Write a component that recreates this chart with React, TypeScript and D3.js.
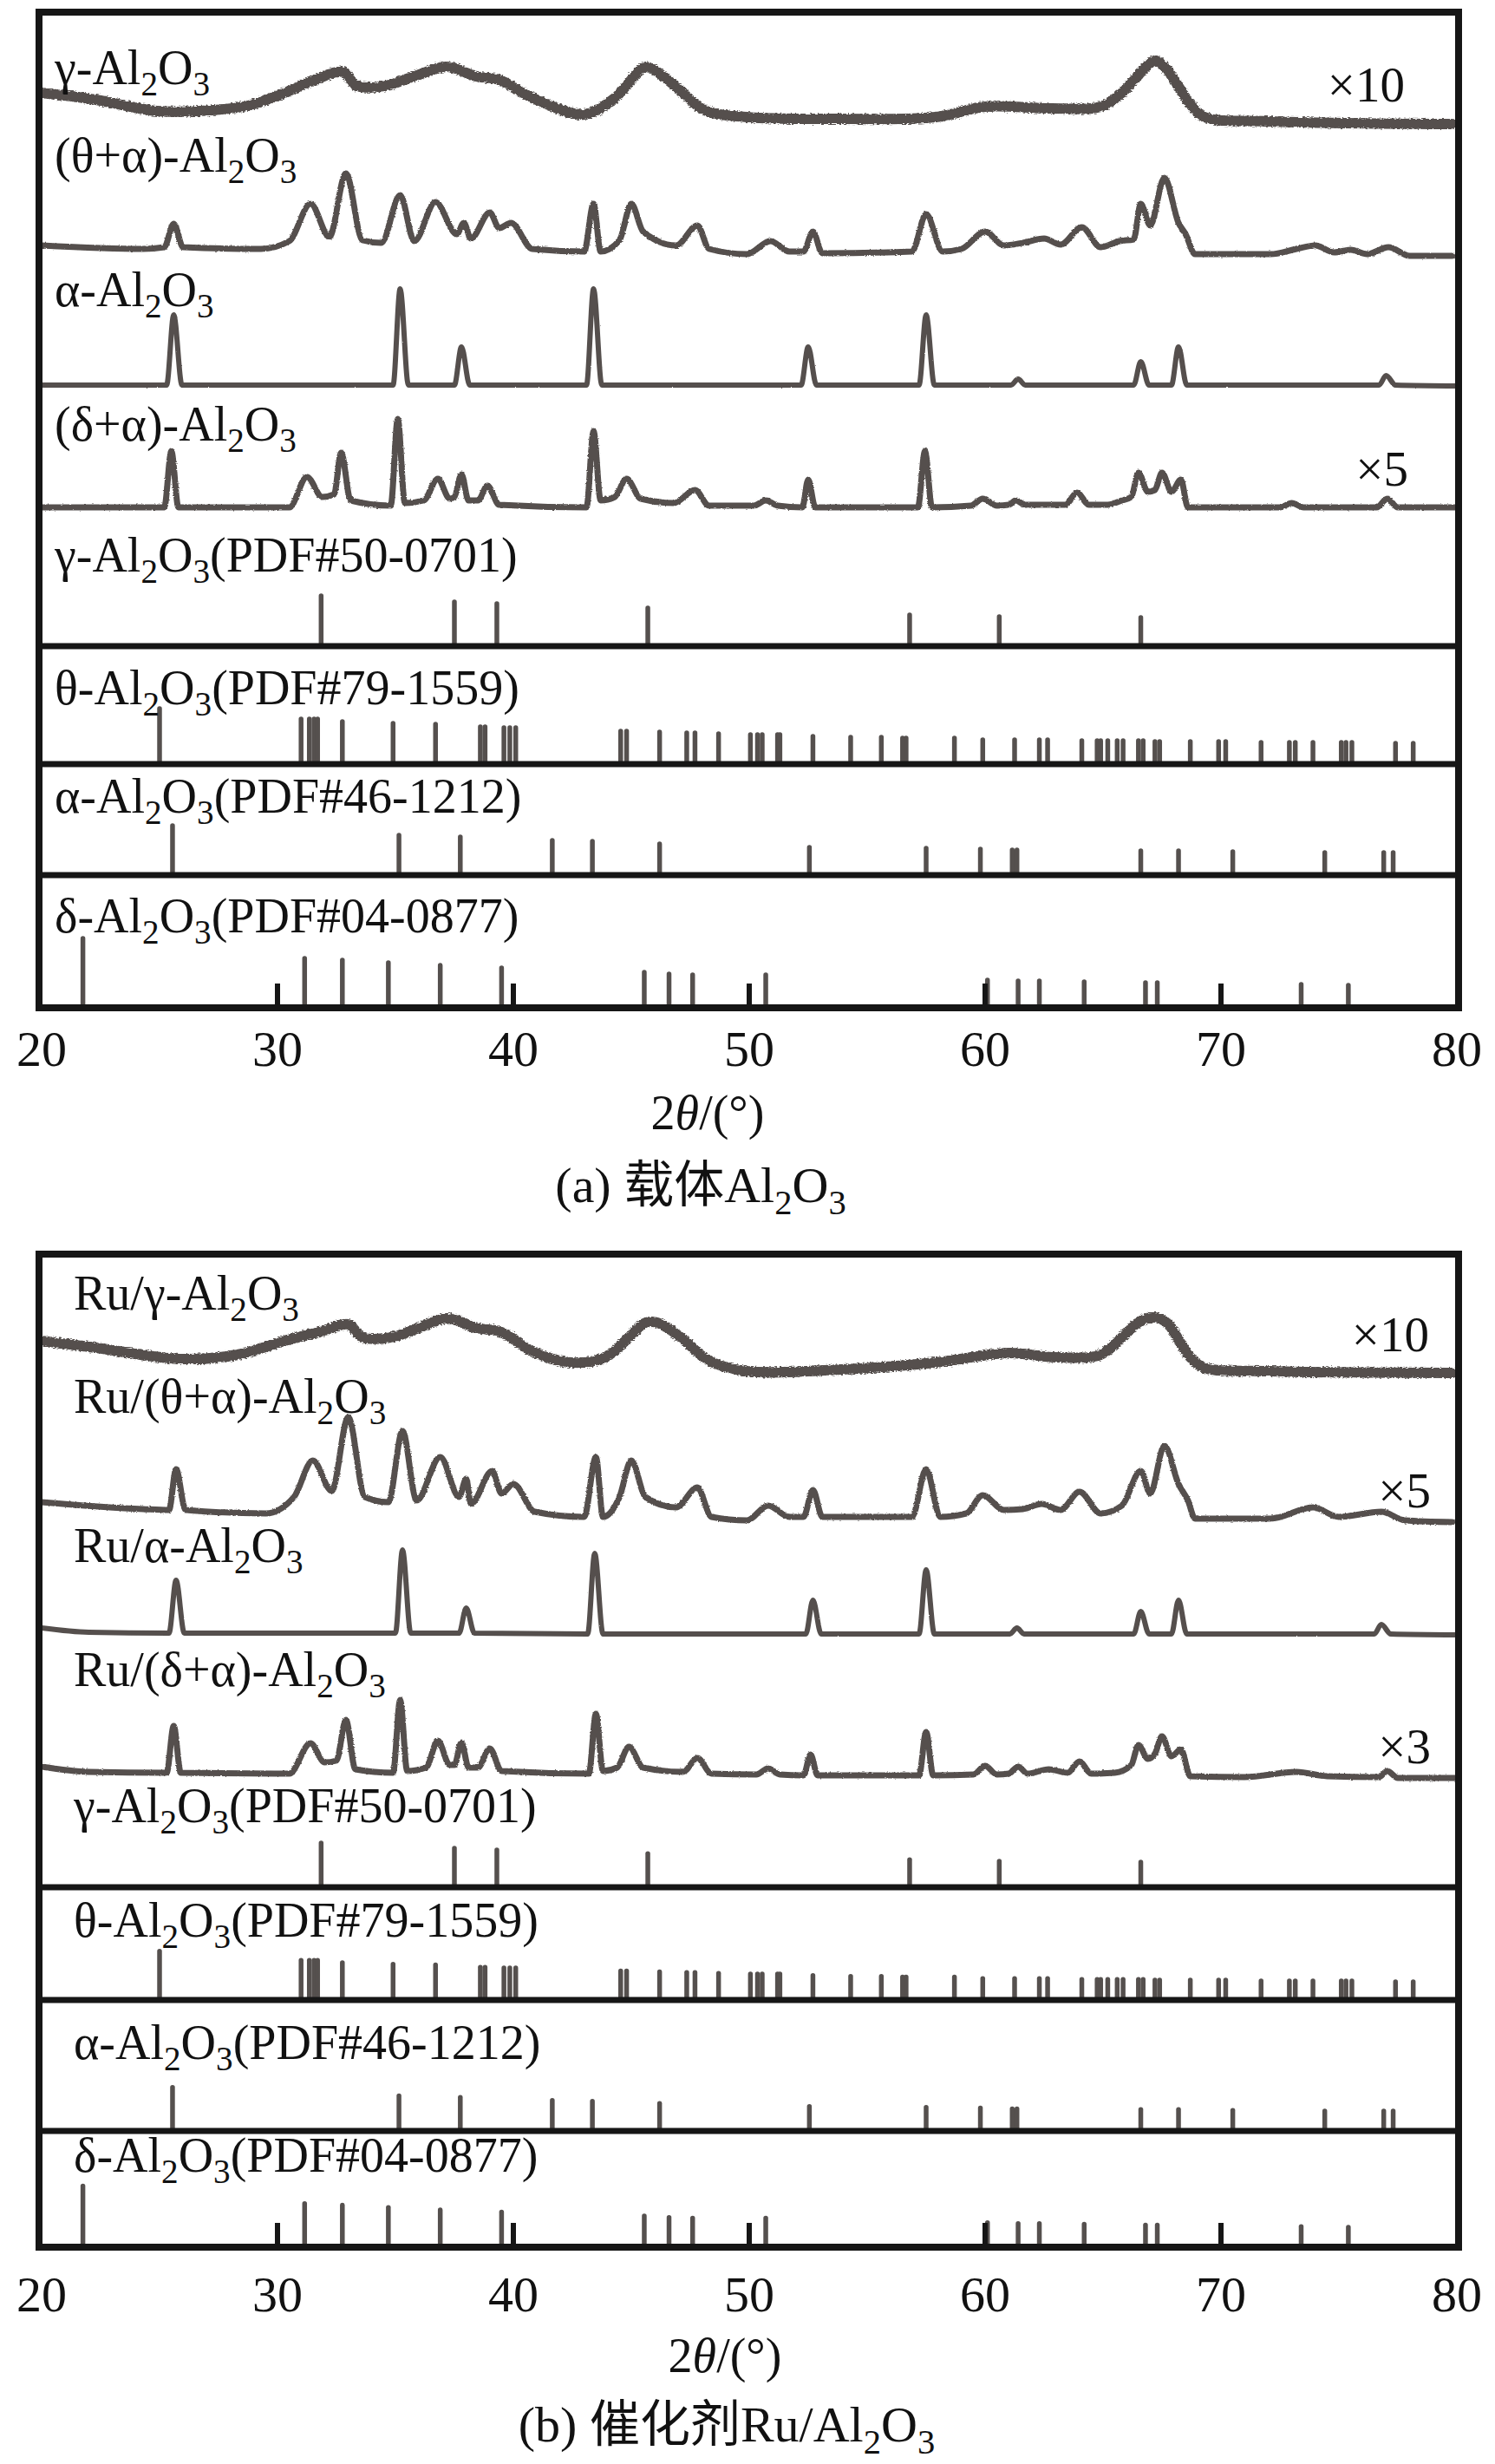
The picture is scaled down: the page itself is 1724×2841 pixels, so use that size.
import React from 'react';
import * as d3 from 'd3';

// ---------- DATA ----------
const xTicks = [20, 30, 40, 50, 60, 70, 80];

// Panel (a) measured patterns: [2θ, intensity above own baseline]
const gammaA = [[20.0,36],[22.3,28],[24.9,15],[26.7,15],[28.7,21],[30.3,36],[31.5,50],[32.8,60],[33.3,45],[34.4,43],[35.8,55],[37.2,66],[38.4,55],[39.4,51],[40.4,36],[41.4,23],[43.0,11],[44.3,30],[45.5,65],[45.8,65],[46.9,43],[48.1,16],[49.9,8],[53.9,6],[57.9,8],[60.0,20],[62.8,18],[64.9,20],[65.8,36],[66.9,68],[67.2,73],[67.7,63],[68.7,23],[69.3,8],[72.1,3],[79.8,0]];
const thetaAlphaA = [[20.0,10],[24.3,6],[25.2,8],[25.6,35],[26.0,8],[29.3,6],[30.5,15],[31.4,58],[32.2,20],[32.9,93],[33.6,16],[34.4,13],[35.2,68],[35.8,15],[36.7,60],[37.6,23],[37.9,36],[38.2,18],[39.0,48],[39.4,30],[39.9,36],[40.8,6],[43.0,3],[43.4,58],[43.7,3],[44.5,16],[45.0,58],[45.5,26],[46.9,10],[47.8,33],[48.3,6],[49.9,0],[50.9,15],[51.7,3],[52.3,3],[52.7,26],[53.1,1],[56.9,3],[57.5,46],[58.2,3],[59.0,6],[60.0,26],[60.8,10],[61.6,13],[62.5,18],[63.2,11],[64.1,31],[64.9,8],[65.7,15],[66.3,17],[66.6,58],[67.0,33],[67.6,88],[68.2,36],[68.5,23],[68.9,0],[72.1,0],[73.2,6],[74.0,10],[74.8,2],[75.5,5],[76.2,0],[77.1,8],[78.0,-2],[79.8,-2]];
const alphaA = [[20,0],[25.3,0],[25.6,81],[25.95,0],[34.9,0],[35.2,111],[35.55,0],[37.5,0],[37.8,44],[38.15,0],[43.1,0],[43.4,111],[43.75,0],[52.2,0],[52.5,44],[52.85,0],[57.2,0],[57.5,81],[57.85,0],[61.1,0],[61.4,7],[61.7,0],[66.3,0],[66.6,27],[66.95,0],[67.9,0],[68.2,44],[68.55,0],[76.7,0],[77.0,11],[77.4,0],[80,-1]];
const deltaAlphaA = [[20,0],[25.2,0],[25.5,65],[25.8,0],[30.5,0],[31.25,35],[31.9,12],[32.4,15],[32.7,63],[33.1,8],[34.8,2],[35.1,102],[35.4,5],[36.2,8],[36.8,33],[37.3,10],[37.5,12],[37.8,38],[38.1,8],[38.5,8],[38.9,25],[39.4,3],[43.1,0],[43.4,88],[43.7,8],[44.3,12],[44.8,33],[45.4,10],[46.8,5],[47.7,20],[48.3,2],[50.2,2],[50.7,8],[51.2,2],[52.25,0],[52.5,32],[52.8,0],[57.15,0],[57.45,65],[57.75,0],[59.4,2],[59.9,10],[60.5,2],[61.0,3],[61.3,8],[61.7,3],[63.4,3],[63.9,17],[64.4,3],[65.2,3],[65.8,8],[66.2,12],[66.5,40],[66.9,18],[67.2,20],[67.5,40],[67.9,18],[68.3,32],[68.6,0],[72.5,0],[73.0,5],[73.5,0],[76.6,0],[77.05,10],[77.5,0],[80,0]];

// Panel (b) measured patterns
const ruGammaB = [[20.0,37],[22.3,29],[25.9,16],[28.3,21],[30.3,37],[31.9,48],[33.0,56],[33.6,41],[34.8,41],[36.0,52],[37.2,63],[38.4,52],[39.4,48],[39.9,41],[40.8,25],[42.4,12],[43.9,18],[44.9,41],[45.6,58],[46.1,58],[47.1,41],[48.3,14],[49.9,2],[53.9,4],[57.9,12],[61.0,23],[63.0,18],[64.9,21],[65.8,41],[66.6,60],[67.2,64],[67.7,58],[68.7,18],[69.3,6],[72.1,2],[79.8,0]];
const ruThetaAlphaB = [[20.0,21],[24.3,13],[25.4,12],[25.7,59],[26.1,12],[29.5,8],[30.7,27],[31.5,69],[32.3,34],[33.0,119],[33.7,27],[34.7,21],[35.3,103],[35.9,23],[36.9,73],[37.7,27],[38.0,48],[38.2,19],[39.1,57],[39.5,31],[40.0,42],[40.9,10],[43.0,4],[43.5,73],[43.8,4],[44.5,27],[45.0,69],[45.6,27],[46.9,15],[47.8,38],[48.4,4],[49.9,0],[50.8,17],[51.7,4],[52.3,4],[52.7,35],[53.1,4],[56.9,4],[57.5,59],[58.1,4],[59.2,8],[59.9,29],[60.8,12],[61.6,13],[62.4,19],[63.2,12],[64.0,33],[64.9,8],[65.8,17],[66.6,57],[67.0,31],[67.6,86],[68.2,42],[68.6,23],[68.9,2],[72.1,2],[73.9,15],[75.0,4],[76.8,10],[77.8,0],[79.8,-2]];
const ruAlphaB = [[20,7],[22,2],[25.4,1],[25.7,62],[26.05,1],[35.0,1],[35.3,97],[35.65,1],[37.7,1],[38.0,30],[38.35,1],[43.15,0],[43.45,93],[43.8,0],[52.4,0],[52.7,39],[53.05,0],[57.2,0],[57.5,74],[57.85,0],[61.05,0],[61.35,7],[61.65,0],[66.3,0],[66.6,26],[66.95,0],[67.9,0],[68.2,39],[68.55,0],[76.5,0],[76.8,11],[77.2,0],[80,-1]];
const ruDeltaAlphaB = [[20,13],[22,7],[25.3,6],[25.6,60],[25.9,6],[30.5,5],[31.4,40],[32.0,18],[32.5,20],[32.9,67],[33.3,10],[34.9,6],[35.2,90],[35.5,8],[36.3,12],[36.8,43],[37.3,15],[37.5,15],[37.8,41],[38.1,12],[38.5,12],[39.0,34],[39.5,8],[43.2,5],[43.5,74],[43.8,8],[44.4,12],[44.9,36],[45.5,12],[47.2,7],[47.8,23],[48.4,5],[50.3,4],[50.8,11],[51.3,4],[52.3,3],[52.6,27],[52.9,3],[57.2,3],[57.5,53],[57.8,3],[59.5,4],[60.0,14],[60.5,4],[61.0,5],[61.4,13],[61.8,5],[62.7,10],[63.5,6],[64.0,19],[64.5,5],[65.5,6],[66.2,15],[66.5,38],[66.9,22],[67.2,28],[67.5,48],[67.9,25],[68.3,33],[68.7,2],[71,1],[73.2,7],[74.5,2],[76.7,1],[77.05,8],[77.5,0],[80,0]];

// Reference patterns (stick positions, relative heights)
const gammaPDF = [[31.85,58],[37.5,51],[39.3,49],[45.7,44],[56.8,36],[60.6,34],[66.6,33]];
const thetaPDF = [[25.0,64],[31.0,52],[31.35,52],[31.55,52],[31.7,52],[32.75,49],[34.9,47],[36.7,46],[38.6,43],[38.8,43],[39.6,42],[39.85,42],[40.1,42],[44.55,38],[44.8,38],[46.2,37],[47.35,36],[47.7,36],[48.7,35],[50.05,34],[50.35,34],[50.55,34],[51.2,34],[51.3,34],[52.7,32],[54.3,31],[55.6,31],[56.5,30],[56.65,30],[58.7,30],[59.9,28],[61.25,28],[62.3,28],[62.65,28],[64.1,27],[64.75,27],[64.9,27],[65.2,27],[65.6,27],[65.85,27],[66.5,27],[66.7,27],[67.2,26],[67.4,26],[68.7,26],[69.9,26],[70.2,26],[71.7,25],[72.9,25],[73.15,25],[73.9,25],[75.1,25],[75.3,25],[75.55,25],[77.4,24],[78.15,24]];
const alphaPDF = [[25.55,57],[35.15,46],[37.75,44],[41.65,40],[43.35,39],[46.2,36],[52.55,32],[57.5,31],[59.8,30],[61.15,29],[61.35,29],[66.6,28],[68.2,28],[70.5,27],[74.4,26],[76.9,26],[77.3,26]];
const deltaPDF = [[21.75,80],[31.15,57],[32.75,55],[34.7,52],[36.9,49],[39.5,46],[45.55,41],[46.6,39],[47.6,38],[50.7,38],[60.1,32],[61.4,31],[62.3,31],[64.2,30],[66.8,29],[67.3,29],[73.4,27],[75.4,26]];

const seriesA = [gammaA, thetaAlphaA, alphaA, deltaAlphaA];
const seriesB = [ruGammaB, ruThetaAlphaB, ruAlphaB, ruDeltaAlphaB];
const pdfs = [gammaPDF, thetaPDF, alphaPDF, deltaPDF];

const labelsA = ['γ-Al_2O_3', '(θ+α)-Al_2O_3', 'α-Al_2O_3', '(δ+α)-Al_2O_3'];
const labelsB = ['Ru/γ-Al_2O_3', 'Ru/(θ+α)-Al_2O_3', 'Ru/α-Al_2O_3', 'Ru/(δ+α)-Al_2O_3'];
const pdfLabels = ['γ-Al_2O_3(PDF#50-0701)', 'θ-Al_2O_3(PDF#79-1559)', 'α-Al_2O_3(PDF#46-1212)', 'δ-Al_2O_3(PDF#04-0877)'];
const multA = ['×10', '', '', '×5'];
const multB = ['×10', '×5', '', '×3'];
const captions = ['(a) 载体Al_2O_3', '(b) 催化剂Ru/Al_2O_3'];
const xTitle = ['2', 'θ', '/(°)'];

// ---------- STYLE / LAYOUT ----------
const FONT = "'Liberation Serif', 'Times New Roman', 'Noto Sans CJK SC', serif";
const CURVE = '#55504e';
const FRAME = '#161616';
const LABEL_SIZE = 56;

const panels = [
  {
    top: 14, bottom: 1162, left: 45, right: 1682,
    series: seriesA, labels: labelsA, mult: multA,
    offsets: [1019, 869, 718, 577],
    widths: [12, 7, 6, 7],
    noise: [5, 2.5, 1.5, 2.5],
    labelX: 63,
    labelY: [97, 198, 353, 508],
    pdfLabelY: [659, 812, 937, 1075],
    pdfBase: [745, 881, 1009, 1162],
    stickGain: 1.0,
    multPos: [[1620, 117], null, null, [1624, 560]],
    tickY: 1229, titleX: 816, titleY: 1302, capX: 808, capY: 1386,
  },
  {
    top: 1446, bottom: 2591, left: 45, right: 1682,
    series: seriesB, labels: labelsB, mult: multB,
    offsets: [1008, 838, 707, 541],
    widths: [12, 7, 6, 7],
    noise: [5, 2.5, 1.5, 2.5],
    labelX: 85,
    labelY: [1510, 1629, 1801, 1944],
    pdfLabelY: [2101, 2233, 2374, 2504],
    pdfBase: [2176, 2306, 2457, 2591],
    stickGain: 0.88,
    multPos: [[1648, 1558], [1650, 1738], null, [1650, 2033]],
    tickY: 2665, titleX: 836, titleY: 2735, capX: 838, capY: 2815,
  },
];

function RichText({ x, y, text, size, anchor = 'start' }: any) {
  const parts = text.split(/(_\d)/).filter((p: string) => p.length > 0);
  const shift = size * 0.24;
  const out: any[] = [];
  let down = false;
  parts.forEach((p: string, i: number) => {
    if (p.startsWith('_')) {
      out.push(<tspan key={i} dy={down ? 0 : shift} fontSize={size * 0.7}>{p.slice(1)}</tspan>);
      down = true;
    } else {
      out.push(<tspan key={i} dy={down ? -shift : 0}>{p}</tspan>);
      down = false;
    }
  });
  return (
    <text x={x} y={y} fontSize={size} fontFamily={FONT} fill="#111" textAnchor={anchor}>{out}</text>
  );
}

function Panel({ p, idx }: any) {
  const x = d3.scaleLinear().domain([20, 80]).range([48, 1680]);
  const y = d3.scaleLinear().domain([0, p.bottom - p.top]).range([p.bottom, p.top]);
  const stick = d3.scaleLinear().domain([0, 100]).range([0, 100 * p.stickGain]);

  const lines = p.series.map((s: number[][], i: number) => {
    const gen = d3.line<number[]>()
      .x((d) => x(d[0]))
      .y((d) => y(p.offsets[i] + d[1]))
      .curve(i === 0 ? d3.curveCatmullRom.alpha(0.5) : d3.curveMonotoneX);
    return gen(s) as string;
  });

  return (
    <g>
      <defs>
        {p.noise.map((n: number, i: number) => (
          <filter key={i} id={`rough-${idx}-${i}`} x="-2%" y="-20%" width="104%" height="140%">
            <feTurbulence type="fractalNoise" baseFrequency="0.35 0.9" numOctaves={2} seed={idx * 7 + i + 3} result="t" />
            <feDisplacementMap in="SourceGraphic" in2="t" scale={n} xChannelSelector="R" yChannelSelector="G" />
          </filter>
        ))}
      </defs>
      {lines.map((d: string, i: number) => (
        <path key={'c' + i} d={d} fill="none" stroke={CURVE} strokeWidth={p.widths[i]}
          strokeLinejoin="round" strokeLinecap="round" filter={`url(#rough-${idx}-${i})`} />
      ))}
      {pdfs.map((pdf, k) => (
        <g key={'pdf' + k}>
          {pdf.map((d, j) => (
            <line key={j} x1={x(d[0])} x2={x(d[0])} y1={p.pdfBase[k]} y2={p.pdfBase[k] - stick(d[1])}
              stroke={CURVE} strokeWidth={5.5} strokeLinecap="round" />
          ))}
        </g>
      ))}
      {p.pdfBase.slice(0, 3).map((b: number, k: number) => (
        <line key={'sep' + k} x1={p.left} x2={p.right} y1={b} y2={b} stroke={FRAME} strokeWidth={7} />
      ))}
      {xTicks.filter((t) => t > 20 && t < 80).map((t) => (
        <line key={'t' + t} x1={x(t)} x2={x(t)} y1={p.bottom} y2={p.bottom - 28} stroke={FRAME} strokeWidth={6} />
      ))}
      <rect x={p.left} y={p.top} width={p.right - p.left} height={p.bottom - p.top}
        fill="none" stroke={FRAME} strokeWidth={8} />
      {p.labels.map((t: string, i: number) => (
        <RichText key={'l' + i} x={p.labelX} y={p.labelY[i]} text={t} size={LABEL_SIZE} />
      ))}
      {pdfLabels.map((t: string, i: number) => (
        <RichText key={'pl' + i} x={p.labelX} y={p.pdfLabelY[i]} text={t} size={LABEL_SIZE} />
      ))}
      {p.mult.map((m: string, i: number) => m && p.multPos[i] ? (
        <text key={'m' + i} x={p.multPos[i][0]} y={p.multPos[i][1]} fontSize={57} fontFamily={FONT}
          textAnchor="end" fill="#111">{m}</text>
      ) : null)}
      {xTicks.map((t) => (
        <text key={'tl' + t} x={x(t)} y={p.tickY} fontSize={58} fontFamily={FONT} textAnchor="middle" fill="#111">{t}</text>
      ))}
      <text x={p.titleX} y={p.titleY} fontSize={56} fontFamily={FONT} textAnchor="middle" fill="#111">
        <tspan>{xTitle[0]}</tspan><tspan fontStyle="italic">{xTitle[1]}</tspan><tspan>{xTitle[2]}</tspan>
      </text>
    </g>
  );
}

export default function App() {
  return (
    <svg width={1724} height={2841} viewBox="0 0 1724 2841"
      style={{ position: 'absolute', left: 0, top: 0, background: '#fff' }}>
      <rect x={0} y={0} width={1724} height={2841} fill="#fff" />
      {panels.map((p, i) => <Panel key={i} p={p} idx={i} />)}
      {panels.map((p, i) => (
        <RichText key={'cap' + i} x={p.capX} y={p.capY} text={captions[i]} size={58} anchor="middle" />
      ))}
    </svg>
  );
}
